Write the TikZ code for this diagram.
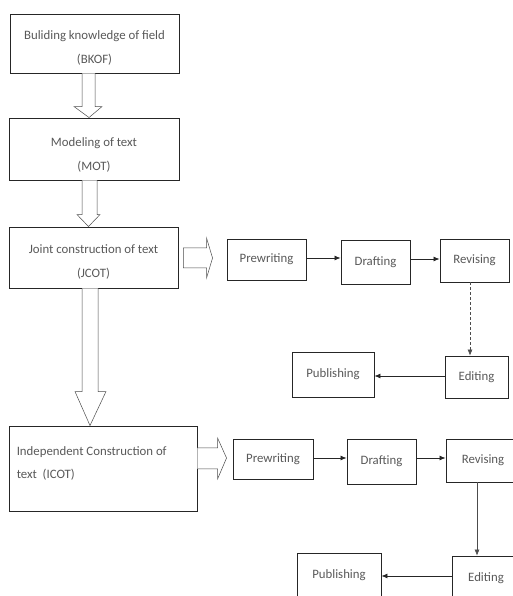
\documentclass[tikz,border=0pt]{standalone}
\usepackage{fontspec}
\setmainfont{Carlito}
\usetikzlibrary{arrows.meta,calc}
\newcommand{\toppad}[1]{\rule{0pt}{#1}}
\tikzset{
  box/.style={draw=black!85, line width=0.9pt, fill=white, text=black!65, font=\fontsize{12.8}{24}\selectfont, align=center, inner sep=0pt},
  boxtext/.style={text=black!65, font=\fontsize{12.8}{23}\selectfont, align=left, inner sep=0pt},
  hollow/.style={draw=black!70, line width=0.5pt, fill=white},
  flow/.style={draw=black!85, line width=0.8pt, -{Latex[length=6pt,width=5pt]}},
  vflow/.style={draw=black!70, line width=0.5pt, -{Latex[length=6pt,width=5pt]}}
}
\begin{document}
\begin{tikzpicture}[x=1pt,y=1pt]
\useasboundingbox (0,0) rectangle (513,596);
\clip (0,0) rectangle (513,596);
\fill[white] (0,0) rectangle (513,596);
% left column
\node[box, minimum width=169, minimum height=59] (bkof) at (94.5,552.5) {\toppad{17pt}Buliding knowledge of field\\(BKOF)};
\node[box, minimum width=170, minimum height=62] (mot) at (94,447) {\toppad{21pt}Modeling of text\\(MOT)};
\node[box, minimum width=169, minimum height=61] (jcot) at (93.5,338.5) {\toppad{17pt}Joint construction of text\\(JCOT)};
\node[box, minimum width=188, minimum height=85] (icot) at (103,127.5) {};
\node[boxtext, anchor=north west] (icottext) at ($(icot.north west)+(8,-21)$) {Independent Construction of\\text\ \ (ICOT)};
% row 1
\node[box, minimum width=79, minimum height=41] (pa) at (266.5,336.5) {Prewriting};
\node[box, minimum width=69, minimum height=44] (da) at (375.5,334) {Drafting};
\node[box, minimum width=69, minimum height=43] (ra) at (474.5,335.5) {Revising};
\node[box, minimum width=63, minimum height=42] (ea) at (476.5,219) {Editing};
\node[box, minimum width=82, minimum height=45] (ua) at (333,221.5) {Publishing};
% row 2
\node[box, minimum width=80, minimum height=40] (pb) at (273,137) {Prewriting};
\node[box, minimum width=69, minimum height=45] (db) at (381.5,134.5) {Drafting};
\node[box, minimum width=74, minimum height=43] (rb) at (483,135.5) {Revising};
\node[box, minimum width=68, minimum height=44] (eb) at (486,18) {Editing};
\node[box, minimum width=84, minimum height=45] (ub) at (339,20.5) {Publishing};
% hollow vertical arrows
\draw[hollow] let \p1=(bkof.south), \p2=(mot.north) in
  (82,\y1) -- (82,\y2+11) -- (74,\y2+11) -- (89,\y2) -- (102,\y2+11) -- (95,\y2+11) -- (95,\y1);
\draw[hollow] let \p1=(mot.south), \p2=(jcot.north) in
  (82,\y1) -- (82,\y2+12) -- (77,\y2+12) -- (88.5,\y2) -- (100,\y2+12) -- (97,\y2+12) -- (97,\y1);
\draw[hollow] let \p1=(jcot.south), \p2=(icot.north) in
  (82,\y1) -- (82,\y2+34) -- (75,\y2+34) -- (90,\y2) -- (106,\y2+34) -- (98,\y2+34) -- (98,\y1);
% hollow horizontal arrows
\draw[hollow] let \p1=(jcot.east), \p2=(pa.west) in
  (\x1+5,348) -- (\x2-20,348) -- (\x2-20,358) -- (\x2-14,338) -- (\x2-20,318) -- (\x2-20,328) -- (\x1+5,328) -- cycle;
\draw[hollow] let \p1=(icot.east), \p2=(pb.west) in
  (\x1,148) -- (\x2-15,148) -- (\x2-15,158) -- (\x2-6,138) -- (\x2-15,117) -- (\x2-15,127) -- (\x1,127);
% flow arrows row 1
\draw[flow] ([yshift=1.5pt]pa.east) -- ([yshift=1.5pt]pa.east -| da.west);
\draw[flow] ([yshift=3pt]da.east) -- ([yshift=3pt]da.east -| ra.west);
\draw[vflow, densely dashed] ([xshift=-4.5pt]ra.south) -- ([xshift=-4.5pt]ra.south |- ea.north);
\draw[flow] ([yshift=1pt]ea.west) -- ([yshift=1pt]ea.west -| ua.east);
% flow arrows row 2
\draw[flow] ([yshift=1pt]pb.east) -- ([yshift=1pt]pb.east -| db.west);
\draw[flow] ([yshift=3.5pt]db.east) -- ([yshift=3.5pt]db.east -| rb.west);
\draw[vflow] ([xshift=-6pt]rb.south) -- ([xshift=-6pt]rb.south |- eb.north);
\draw[flow] ([yshift=2pt]eb.west) -- ([yshift=2pt]eb.west -| ub.east);
\end{tikzpicture}
\end{document}
